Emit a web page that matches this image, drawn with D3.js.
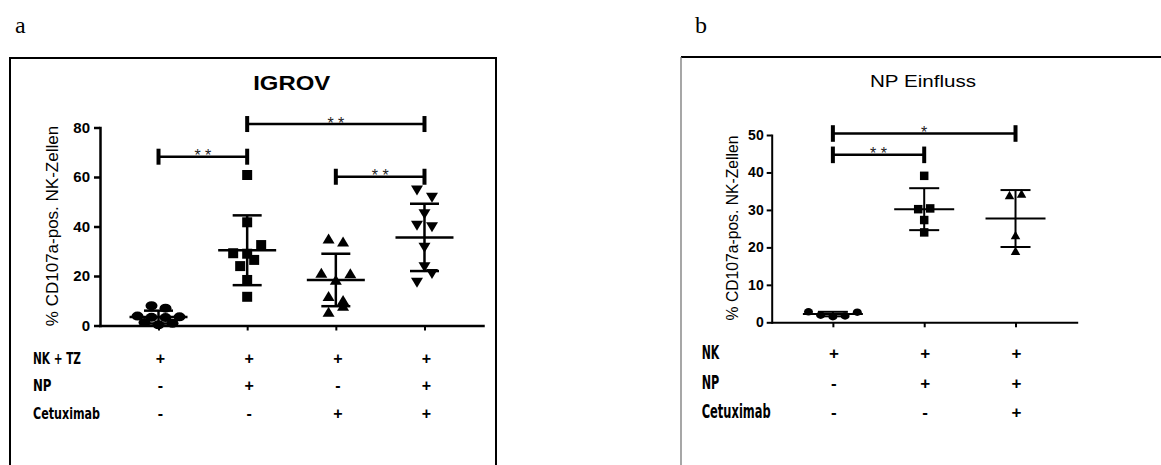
<!DOCTYPE html>
<html><head><meta charset="utf-8">
<script src="https://cdn.jsdelivr.net/npm/d3@7/dist/d3.min.js"></script>
<style>body{margin:0;background:#fff}</style>
</head><body><svg id="chart" width="1161" height="465"></svg>
<script>
// ---------------- Panel a data ----------------
const aLetter = "a";
const aTitle = "IGROV";
const aYLabel = "% CD107a-pos. NK-Zellen";
const aGroups = ["NK+TZ", "NK+TZ+NP", "NK+TZ+Cetuximab", "NK+TZ+NP+Cetuximab"];
const aRowLabels = ["NK + TZ", "NP", "Cetuximab"];
const aRowSigns = [["+", "+", "+", "+"], ["-", "+", "-", "+"], ["-", "-", "+", "+"]];
const aValues = [
  [8.0, 7.0, 3.8, 3.3, 3.2, 3.5, 1.2, 0.3, 0.9],
  [60.8, 41.7, 29.2, 29.0, 32.5, 24.0, 26.5, 18.4, 11.6],
  [35.2, 33.9, 21.3, 18.5, 21.1, 11.9, 10.3, 5.6, 8.0],
  [54.5, 51.6, 45.0, 40.3, 39.7, 31.4, 23.5, 17.3, 20.8]
];
const aMeans = [3.4, 30.4, 18.4, 35.6];
const aSDs = [2.6, 14.1, 10.6, 13.6];
const aTicks = [0, 20, 40, 60, 80];
const aBrackets = [
  { from: 0, to: 1, at: 68.2, label: "* *" },
  { from: 1, to: 3, at: 81.4, label: "* *" },
  { from: 2, to: 3, at: 60.1, label: "* *" }
];

// ---------------- Panel b data ----------------
const bLetter = "b";
const bTitle = "NP Einfluss";
const bYLabel = "% CD107a-pos. NK-Zellen";
const bGroups = ["NK", "NK+NP", "NK+NP+Cetuximab"];
const bRowLabels = ["NK", "NP", "Cetuximab"];
const bRowSigns = [["+", "+", "+"], ["-", "+", "+"], ["-", "-", "+"]];
const bValues = [
  [2.8, 1.9, 1.5, 1.7, 2.7],
  [39.1, 30.2, 30.4, 27.3, 24.0],
  [34.0, 34.4, 23.3, 19.1]
];
const bMeans = [2.2, 30.2, 27.7];
const bSDs = [0.6, 5.6, 7.6];
const bTicks = [0, 10, 20, 30, 40, 50];
const bBrackets = [
  { from: 0, to: 2, at: 50.4, label: "*" },
  { from: 0, to: 1, at: 44.7, label: "* *" }
];

// ---------------- Layout / style ----------------
const SANS = "'Liberation Sans', Arial, Helvetica, sans-serif";
const NARROW = "'Liberation Sans Narrow', 'Arial Narrow', 'DejaVu Sans Condensed', sans-serif";

const layoutA = {
  letter: aLetter, title: aTitle, yLabel: aYLabel, groups: aGroups, rowLabels: aRowLabels,
  rowSigns: aRowSigns, values: aValues, means: aMeans, sds: aSDs, ticks: aTicks, brackets: aBrackets,
  yMax: 80, x0: 100, x1: 483, y0: 325.5, y1: 127.5, pad: 0.66,
  tickSize: 6, tickPad: 4, tickFs: 15, axisW: 2.5,
  shapes: ["circle", "square", "triUp", "triDown"],
  mw: [12, 10, 12, 12], mh: [9, 10, 10, 10],
  rowGap: [6, 10, 10, 10], spread: [14, 14, 14.5, 15],
  meanHalf: 29, capHalf: 14.5, lineW: 2.5,
  brW: 2.5, brCap: 8, starFs: 16,
  rowY: [363.5, 391, 419.3], rowX: 33, rowFs: 16, rowLens: [48, 18.5, 67], signFs: 16, signDx: 2,
  titleX: 291.7, titleY: 90, titleFs: 19.5, titleW: "bold", titleLen: 77,
  yLabX: 58, yLabY: 226, yLabFs: 17,
  letterX: 15, letterY: 33
};
const layoutB = {
  letter: bLetter, title: bTitle, yLabel: bYLabel, groups: bGroups, rowLabels: bRowLabels,
  rowSigns: bRowSigns, values: bValues, means: bMeans, sds: bSDs, ticks: bTicks, brackets: bBrackets,
  yMax: 50, x0: 771.7, x1: 1076.7, y0: 322.3, y1: 135, pad: 0.67,
  tickSize: 5, tickPad: 3, tickFs: 14, axisW: 2,
  shapes: ["circle", "square", "triUp"],
  mw: [9, 8.5, 9.5], mh: [7.5, 8.5, 8.5],
  rowGap: [6, 10, 10], spread: [12.2, 12, 12],
  meanHalf: 30, capHalf: 15, lineW: 2,
  brW: 2.5, brCap: 8.3, starFs: 16,
  rowY: [359.3, 389.3, 418.3], rowX: 701.7, rowFs: 19, rowLens: [17.6, 17.6, 69], signFs: 17, signDx: 1,
  titleX: 923, titleY: 87.3, titleFs: 17, titleW: "normal", titleLen: 106,
  yLabX: 738, yLabY: 228, yLabFs: 15.7,
  letterX: 695, letterY: 33
};

const svg = d3.select("#chart");

// frames
svg.append("path").attr("d", "M10,466 V58 H496 V466").attr("fill", "none").attr("stroke", "#000").attr("stroke-width", 2);
svg.append("line").attr("x1", 681).attr("x2", 1162).attr("y1", 57).attr("y2", 57).attr("stroke", "#000").attr("stroke-width", 2);
svg.append("line").attr("x1", 681).attr("x2", 681).attr("y1", 57).attr("y2", 466).attr("stroke", "#777").attr("stroke-width", 1.3);

function shapePath(type, w, h) {
  const p = d3.path();
  if (type === "square") { p.rect(-w / 2, -h / 2, w, h); }
  else if (type === "triUp") { p.moveTo(0, -h / 2); p.lineTo(w / 2, h / 2); p.lineTo(-w / 2, h / 2); p.closePath(); }
  else if (type === "triDown") { p.moveTo(0, h / 2); p.lineTo(w / 2, -h / 2); p.lineTo(-w / 2, -h / 2); p.closePath(); }
  return p.toString();
}

// row-based scatter layout (Prism-like): points with close pixel y share a row
function scatterOffsets(vals, y, gap, spread) {
  const idx = vals.map((v, i) => i).sort((a, b) => vals[a] - vals[b]);
  const rows = [];
  let cur = null;
  idx.forEach(i => {
    const py = y(vals[i]);
    if (cur && Math.abs(cur.start - py) < gap) cur.items.push(i);
    else { cur = { start: py, items: [i] }; rows.push(cur); }
  });
  const off = new Array(vals.length).fill(0);
  rows.forEach(r => {
    const items = r.items.slice().sort((a, b) => a - b);
    const n = items.length;
    items.forEach((i, k) => { off[i] = (k - (n - 1) / 2) * spread; });
  });
  return off;
}

function drawPanel(L) {
  const g = svg.append("g");
  const x = d3.scalePoint().domain(L.groups).range([L.x0, L.x1]).padding(L.pad);
  const y = d3.scaleLinear().domain([0, L.yMax]).range([L.y0, L.y1]);

  // y axis
  const ya = g.append("g").attr("transform", `translate(${L.x0},0)`)
    .call(d3.axisLeft(y).tickValues(L.ticks).tickSize(L.tickSize).tickSizeOuter(0).tickPadding(L.tickPad).tickFormat(d3.format("d")));
  ya.attr("font-family", SANS).attr("font-size", L.tickFs).attr("font-weight", "bold");
  ya.select(".domain").attr("stroke-width", L.axisW).attr("stroke-linecap", "square");
  ya.selectAll(".tick line").attr("stroke-width", L.axisW);

  // x axis
  const xa = g.append("g").attr("transform", `translate(0,${L.y0})`)
    .call(d3.axisBottom(x).tickSize(5).tickSizeOuter(0).tickFormat(""));
  xa.select(".domain").attr("stroke-width", L.axisW).attr("stroke-linecap", "square");
  xa.selectAll(".tick line").attr("stroke-width", 2);

  // mean / SD
  L.groups.forEach((grp, i) => {
    const cx = x(grp), m = L.means[i], s = L.sds[i];
    const lg = g.append("g").attr("stroke", "#000").attr("stroke-width", L.lineW);
    lg.append("line").attr("x1", cx - L.meanHalf).attr("x2", cx + L.meanHalf).attr("y1", y(m)).attr("y2", y(m));
    lg.append("line").attr("x1", cx).attr("x2", cx).attr("y1", y(m - s)).attr("y2", y(m + s));
    [m - s, m + s].forEach(v => {
      lg.append("line").attr("x1", cx - L.capHalf).attr("x2", cx + L.capHalf).attr("y1", y(v)).attr("y2", y(v));
    });
  });

  // points
  L.groups.forEach((grp, i) => {
    const vals = L.values[i];
    const off = scatterOffsets(vals, y, L.rowGap[i], L.spread[i]);
    const type = L.shapes[i], w = L.mw[i], h = L.mh[i];
    const sel = g.append("g").selectAll("g").data(vals).join("g")
      .attr("transform", (d, k) => `translate(${x(grp) + off[k]},${y(d)})`);
    if (type === "circle") {
      sel.append("ellipse").attr("rx", w / 2).attr("ry", h / 2).attr("fill", "#000");
    } else {
      sel.append("path").attr("d", shapePath(type, w, h)).attr("fill", "#000");
    }
  });

  // significance brackets
  L.brackets.forEach(b => {
    const xa1 = x(L.groups[b.from]), xa2 = x(L.groups[b.to]), yy = y(b.at);
    const bg = g.append("g").attr("stroke", "#000");
    bg.append("line").attr("x1", xa1).attr("x2", xa2).attr("y1", yy).attr("y2", yy).attr("stroke-width", L.brW);
    [xa1, xa2].forEach(xx => bg.append("line").attr("x1", xx).attr("x2", xx)
      .attr("y1", yy - L.brCap).attr("y2", yy + L.brCap).attr("stroke-width", 4));
    g.append("text").attr("x", (xa1 + xa2) / 2).attr("y", yy + 4.5).attr("text-anchor", "middle")
      .attr("font-family", SANS).attr("font-size", L.starFs).attr("fill", "#222").text(b.label);
  });

  // condition table
  L.rowLabels.forEach((lab, r) => {
    g.append("text").attr("x", L.rowX).attr("y", L.rowY[r]).attr("font-family", NARROW)
      .attr("font-weight", "bold").attr("font-size", L.rowFs)
      .attr("textLength", L.rowLens[r]).attr("lengthAdjust", "spacingAndGlyphs").text(lab);
    L.groups.forEach((grp, c) => {
      g.append("text").attr("x", x(grp) + L.signDx).attr("y", L.rowY[r]).attr("text-anchor", "middle")
        .attr("font-family", SANS).attr("font-weight", "bold").attr("font-size", L.signFs)
        .text(L.rowSigns[r][c]);
    });
  });

  // title
  g.append("text").attr("x", L.titleX).attr("y", L.titleY).attr("text-anchor", "middle")
    .attr("font-family", SANS).attr("font-weight", L.titleW).attr("font-size", L.titleFs)
    .attr("textLength", L.titleLen).attr("lengthAdjust", "spacingAndGlyphs").text(L.title);

  // y label
  g.append("text").attr("transform", `translate(${L.yLabX},${L.yLabY}) rotate(-90)`)
    .attr("text-anchor", "middle").attr("font-family", SANS).attr("font-size", L.yLabFs).text(L.yLabel);

  // panel letter
  svg.append("text").attr("x", L.letterX).attr("y", L.letterY)
    .attr("font-family", "'Liberation Serif', 'Times New Roman', serif").attr("font-size", 24).text(L.letter);
}

drawPanel(layoutA);
drawPanel(layoutB);
</script>
</body></html>
